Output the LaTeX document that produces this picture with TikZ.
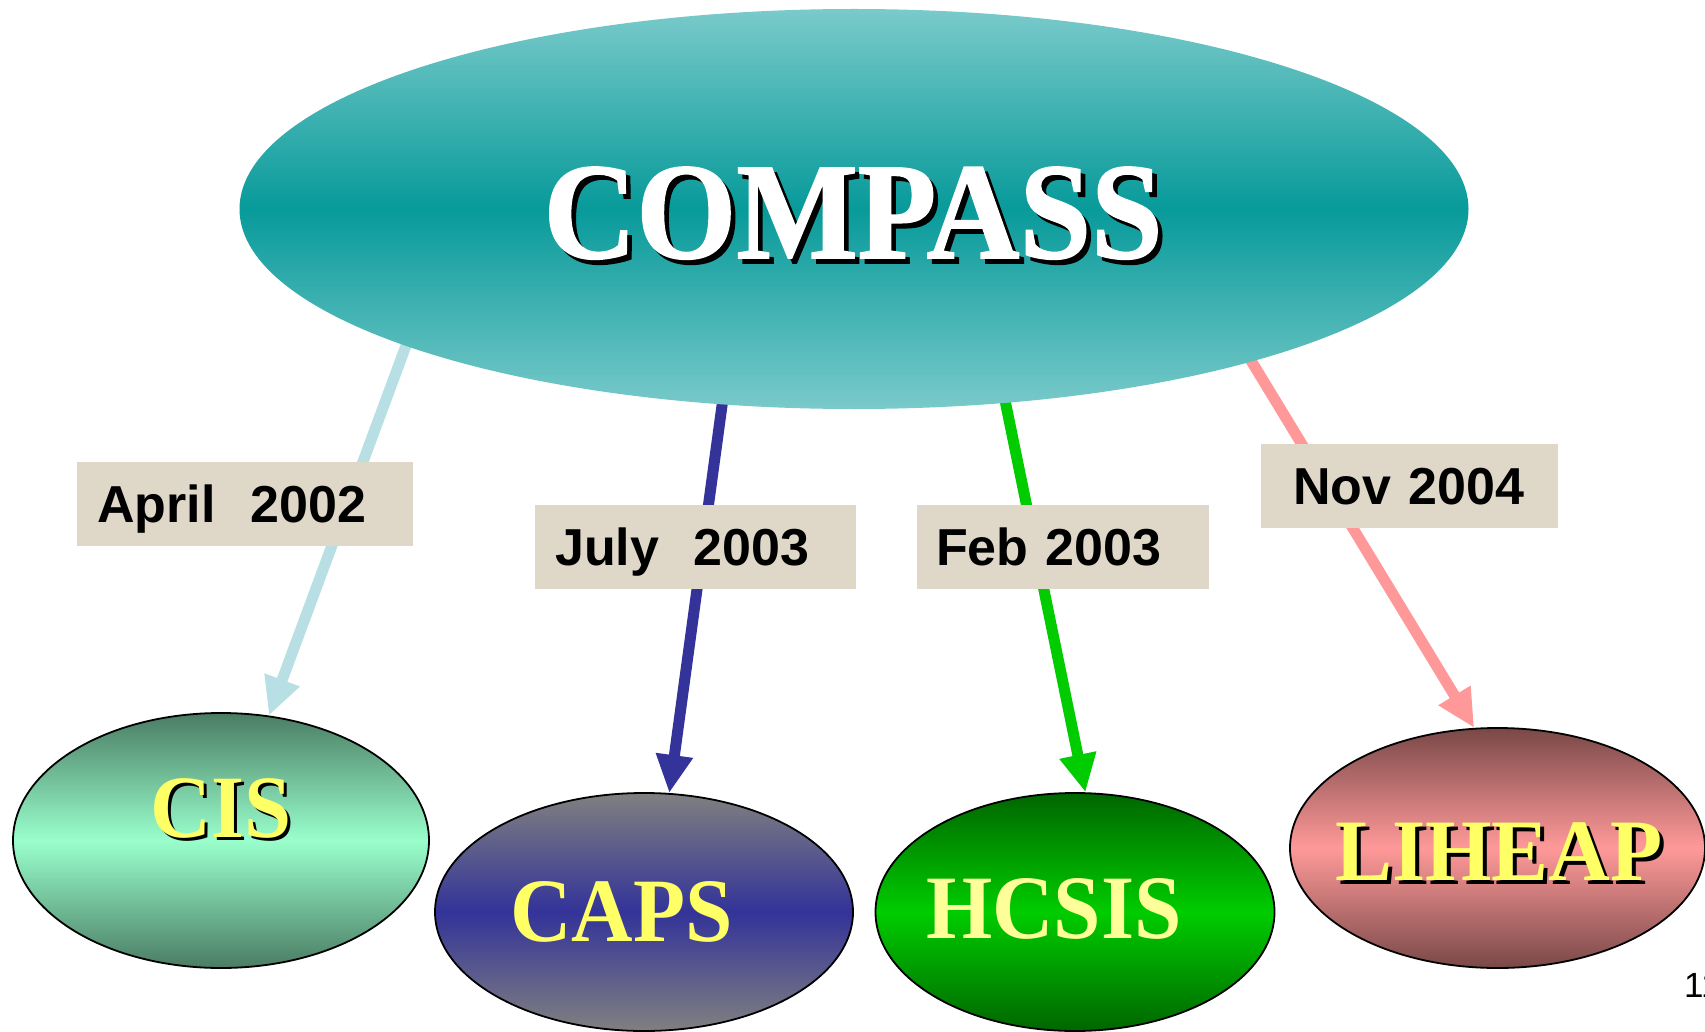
\documentclass[tikz,border=0pt]{standalone}
\usepackage{fontspec}
\setmainfont{Liberation Serif}
\newfontfamily\arialfont{Liberation Sans}
\newfontfamily\compassfont[BoldFeatures={FakeBold=1.2}]{Liberation Serif}
\usetikzlibrary{arrows.meta,shapes.geometric,backgrounds}
\definecolor{tealmid}{HTML}{089A9A}
\definecolor{tealedge}{HTML}{7ACACA}
\definecolor{cisdark}{HTML}{4A7C64}
\definecolor{cislight}{HTML}{99FFCC}
\definecolor{capsgray}{HTML}{808080}
\definecolor{capsblue}{HTML}{333399}
\definecolor{hcdark}{HTML}{006600}
\definecolor{hclight}{HTML}{00CC00}
\definecolor{lidark}{HTML}{7A4848}
\definecolor{lilight}{HTML}{FF9999}
\definecolor{arrcis}{HTML}{B8E0E4}
\definecolor{yel}{HTML}{FFFF66}
\definecolor{paleyel}{HTML}{FFFF99}
\definecolor{boxbeige}{HTML}{DFD7C8}
\newcommand\shadowed[2]{\rlap{\hspace*{#1}\raisebox{-#1}{\color{black}#2}}#2}
\begin{document}
\begin{tikzpicture}[x=1pt,y=-1pt,
  oval/.style={ellipse, draw=black, line width=1.8pt, inner sep=0pt},
  titletext/.style={inner sep=0pt, anchor=base},
  datebox/.style={rectangle, fill=boxbeige, inner sep=0pt, minimum height=84pt,
    anchor=north west, align=left,
    font=\arialfont\bfseries\fontsize{52pt}{60pt}\selectfont,
    text height=37.4pt, text depth=0pt},
  link/.style={line width=11pt, -{Triangle[length=38pt,width=35pt]}, shorten <=-14pt}]
\useasboundingbox (0,0) rectangle (1705,1032);

% main ellipse
\node[ellipse, inner sep=0pt, minimum width=1229pt, minimum height=400pt,
  top color=tealedge, bottom color=tealedge, middle color=tealmid] (main) at (854,209) {};
\node[titletext, font=\compassfont\bfseries\fontsize{137.5pt}{140pt}\selectfont, text=white]
  (compassT) at (853,258) {\scalebox{0.935}[1]{\shadowed{5pt}{COMPASS}}};

% child ellipses
\node[oval, minimum width=416pt, minimum height=255pt,
  top color=cisdark, bottom color=cisdark, middle color=cislight] (cis) at (221,840.5) {};
\node[oval, minimum width=418pt, minimum height=238pt,
  top color=capsgray, bottom color=capsgray, middle color=capsblue] (caps) at (644,912) {};
\node[oval, minimum width=399pt, minimum height=238pt,
  top color=hcdark, bottom color=hcdark, middle color=hclight] (hcsis) at (1075,912) {};
\node[oval, minimum width=415pt, minimum height=240pt,
  top color=lidark, bottom color=lidark, middle color=lilight] (liheap) at (1497.5,848) {};

\node[titletext, font=\bfseries\fontsize{89pt}{90pt}\selectfont, text=yel]
  (cisT) at (221,837) {\scalebox{0.95}[1]{\shadowed{3.5pt}{CIS}}};
\node[titletext, font=\bfseries\fontsize{90.6pt}{92pt}\selectfont, text=yel]
  (capsT) at (621.5,941) {\scalebox{0.94}[1]{CAPS}};
\node[titletext, font=\bfseries\fontsize{90.6pt}{92pt}\selectfont, text=paleyel]
  (hcsisT) at (1054,938) {\scalebox{0.94}[1]{HCSIS}};
\node[titletext, font=\bfseries\fontsize{87.6pt}{90pt}\selectfont, text=yel]
  (liheapT) at (1499,880) {\scalebox{0.975}[1]{\shadowed{4pt}{LIHEAP}}};

% date labels
\node[datebox, text width=336pt, minimum width=336pt] (dApr) at (77,462) {\hspace*{20pt}April\ \ 2002};
\node[datebox, text width=321pt, minimum width=321pt] (dJul) at (535,505) {\hspace*{20pt}July\ \ 2003};
\node[datebox, text width=292pt, minimum width=292pt] (dFeb) at (917,505) {\hspace*{19pt}Feb 2003};
\node[datebox, text width=297pt, minimum width=297pt] (dNov) at (1261,444) {\hspace*{32pt}Nov 2004};

% page number
\node[inner sep=0pt, anchor=base west, font=\arialfont\fontsize{35pt}{40pt}\selectfont]
  (pagenum) at (1684,997) {11};

% connectors behind everything
\begin{scope}[on background layer]
  \fill[white] (0,0) rectangle (1705,1032);
  \draw[link, draw=arrcis, fill=arrcis] (main.197.4) -- (cis.69.5);
  \draw[link, draw=capsblue, fill=capsblue] (main.236.8) -- (caps.78.2);
  \draw[link, draw=hclight, fill=hclight] (main.308.7) -- (hcsis.85.2);
  \draw[link, draw=lilight, fill=lilight] (main.339) -- (liheap.101.5);
\end{scope}
\end{tikzpicture}
\end{document}
